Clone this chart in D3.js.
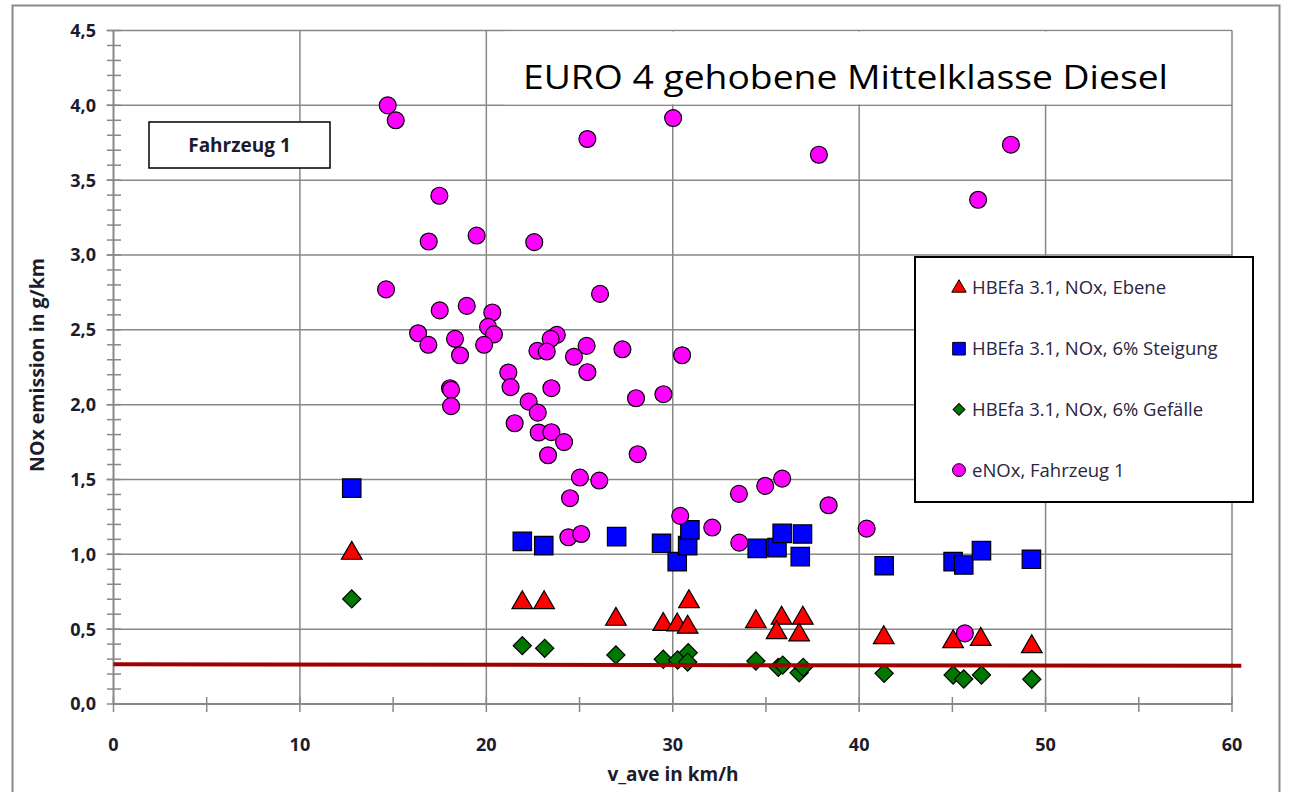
<!DOCTYPE html>
<html>
<head>
<meta charset="utf-8">
<script src="https://cdn.jsdelivr.net/npm/d3@7"></script>
<style>
  body { margin: 0; background: #fff; }
  svg text { font-family: "Open Sans", "Noto Sans", sans-serif; }
</style>
</head>
<body>
<svg id="chart"></svg>
<script>
// HBEFA 3.1 values per average speed [v_ave, NOx]
const ebene = [[12.78,1.007],[21.93,0.677],[23.1,0.677],[26.95,0.566],[29.49,0.532],[30.24,0.528],[30.8,0.513],[30.87,0.684],[34.46,0.55],[35.84,0.573],[35.57,0.477],[36.98,0.573],[36.78,0.461],[41.32,0.443],[45.04,0.416],[46.52,0.432],[49.26,0.383]];
const steigung = [[12.78,1.442],[21.93,1.087],[23.08,1.058],[26.99,1.118],[29.4,1.074],[30.24,0.951],[30.8,1.058],[30.92,1.163],[34.53,1.04],[35.59,1.045],[35.87,1.14],[36.96,1.136],[36.84,0.985],[41.34,0.924],[45.04,0.951],[45.61,0.929],[46.56,1.025],[49.24,0.967]];
const gefaelle = [[12.78,0.702],[21.93,0.39],[23.13,0.372],[26.95,0.328],[29.49,0.299],[30.26,0.294],[30.83,0.343],[30.8,0.28],[34.46,0.287],[35.66,0.245],[35.9,0.26],[36.78,0.209],[37.0,0.245],[41.34,0.205],[45.04,0.194],[45.61,0.167],[46.56,0.194],[49.26,0.165]];
// measured eNOx, Fahrzeug 1
const eNOx = [[14.71,4.0],[15.14,3.9],[25.42,3.775],[30.02,3.915],[37.84,3.67],[48.14,3.737],[46.38,3.369],[17.48,3.396],[16.91,3.09],[19.48,3.13],[22.57,3.086],[14.62,2.77],[26.1,2.74],[17.5,2.63],[18.95,2.66],[20.32,2.616],[20.09,2.52],[20.41,2.47],[16.34,2.477],[16.89,2.4],[18.32,2.44],[18.59,2.33],[19.88,2.4],[23.78,2.466],[23.45,2.44],[22.74,2.36],[23.24,2.355],[25.38,2.393],[24.7,2.32],[27.3,2.37],[30.5,2.33],[25.42,2.217],[21.18,2.215],[18.05,2.11],[18.11,2.099],[18.11,1.99],[21.3,2.117],[23.49,2.11],[28.03,2.043],[29.5,2.07],[22.27,2.02],[22.76,1.947],[21.52,1.876],[22.81,1.814],[23.49,1.816],[24.17,1.75],[23.31,1.662],[28.12,1.669],[25.02,1.513],[26.06,1.493],[24.49,1.375],[24.4,1.114],[25.09,1.136],[35.87,1.506],[34.96,1.457],[33.55,1.404],[38.36,1.328],[30.4,1.257],[32.12,1.179],[40.4,1.172],[33.57,1.078],[45.67,0.472]];
// limit line
const grenzwert = [[0,0.265],[60.5,0.255]];

const xMajor = [0,10,20,30,40,50,60];
const xMinor = [0,5,10,15,20,25,30,35,40,45,50,55,60];
const yMajor = [0,0.5,1,1.5,2,2.5,3,3.5,4,4.5];
const yMinor = d3.range(0, 46).map(d => d / 10);

const legendLabels = ["HBEfa 3.1, NOx, Ebene", "HBEfa 3.1, NOx, 6% Steigung", "HBEfa 3.1, NOx, 6% Gefälle", "eNOx, Fahrzeug 1"];
const titleText = "EURO 4 gehobene Mittelklasse Diesel";
const boxText = "Fahrzeug 1";

const width = 1291, height = 792;
const svg = d3.select("#chart").attr("width", width).attr("height", height);
svg.append("rect").attr("width", width).attr("height", height).attr("fill", "#fff");

// outer chart border
svg.append("rect").attr("x", 12.5).attr("y", 5.5).attr("width", 1267).attr("height", 800)
  .attr("fill", "none").attr("stroke", "#8a8a8a").attr("stroke-width", 2);

const x = d3.scaleLinear().domain([0, 60]).range([113.5, 1232]);
const y = d3.scaleLinear().domain([0, 4.5]).range([704, 30.5]);
const grid = "#888";
const ink = "#1c1c2c";
const fmt = d => d3.format(".1f")(d).replace(".", ",");

// gridlines
svg.append("g").selectAll("line").data(yMajor.slice(1)).enter().append("line")
  .attr("x1", 106.5).attr("x2", x(60)).attr("y1", d => y(d)).attr("y2", d => y(d))
  .attr("stroke", grid).attr("stroke-width", 1.5);
svg.append("g").selectAll("line").data(xMajor.slice(1)).enter().append("line")
  .attr("x1", d => x(d)).attr("x2", d => x(d)).attr("y1", y(4.5)).attr("y2", y(0))
  .attr("stroke", grid).attr("stroke-width", 1.5);

// title box covers grid at the top right
svg.append("rect").attr("x", 505).attr("y", y(4.5) + 1).attr("width", x(60) - 506)
  .attr("height", y(4.0) - y(4.5) - 2).attr("fill", "#fff");
svg.append("text").attr("x", 523).attr("y", 89).attr("font-size", 33)
  .attr("textLength", 645).attr("lengthAdjust", "spacingAndGlyphs")
  .attr("fill", "#000").text(titleText);

// axes
svg.append("line").attr("x1", x(0)).attr("x2", x(0)).attr("y1", y(4.5)).attr("y2", y(0))
  .attr("stroke", grid).attr("stroke-width", 2);
svg.append("line").attr("x1", x(0)).attr("x2", x(60)).attr("y1", y(0)).attr("y2", y(0))
  .attr("stroke", grid).attr("stroke-width", 2);
svg.append("g").selectAll("line").data(yMinor).enter().append("line")
  .attr("x1", 107).attr("x2", 121).attr("y1", d => y(d)).attr("y2", d => y(d))
  .attr("stroke", grid).attr("stroke-width", 1.5);
svg.append("g").selectAll("line").data(xMinor).enter().append("line")
  .attr("x1", d => x(d)).attr("x2", d => x(d)).attr("y1", y(0) - 7).attr("y2", y(0) + 8)
  .attr("stroke", grid).attr("stroke-width", 1.5);

// tick labels
svg.append("g").selectAll("text").data(yMajor).enter().append("text")
  .attr("x", 96).attr("y", d => y(d)).attr("dy", "0.36em").attr("text-anchor", "end")
  .attr("font-size", 18).attr("font-weight", "bold").attr("fill", ink).text(fmt);
svg.append("g").selectAll("text").data(xMajor).enter().append("text")
  .attr("x", d => x(d)).attr("y", 751).attr("text-anchor", "middle")
  .attr("font-size", 18).attr("font-weight", "bold").attr("fill", ink).text(d => d);

// axis titles
svg.append("text").attr("x", 673).attr("y", 781).attr("text-anchor", "middle")
  .attr("font-size", 19).attr("font-weight", "bold").attr("fill", ink).text("v_ave in km/h");
svg.append("text").attr("transform", "translate(44,365) rotate(-90)").attr("text-anchor", "middle")
  .attr("font-size", 19.5).attr("font-weight", "bold").attr("fill", ink).text("NOx emission in g/km");

// "Fahrzeug 1" box
svg.append("rect").attr("x", 149).attr("y", 122).attr("width", 181).attr("height", 46)
  .attr("fill", "#fff").attr("stroke", "#000").attr("stroke-width", 1.5);
svg.append("text").attr("x", 239.5).attr("y", 152).attr("text-anchor", "middle")
  .attr("font-size", 19).attr("font-weight", "bold").attr("fill", ink).text(boxText);

// markers
const triPath = d3.symbol().type(d3.symbolTriangle).size(185)();
const sqPath = d3.symbol().type(d3.symbolSquare).size(340)();
const diaPath = d3.symbol().type(d3.symbolSquare).size(165)();
const circPath = d3.symbol().type(d3.symbolCircle).size(225)();

function drawSeries(data, path, fill, rot) {
  svg.append("g").selectAll("path").data(data).enter().append("path")
    .attr("d", path)
    .attr("transform", d => `translate(${x(d[0])},${y(d[1])})` + (rot ? " rotate(45)" : ""))
    .attr("fill", fill).attr("stroke", "#000").attr("stroke-width", 1.2);
}
drawSeries(steigung, sqPath, "#0000ff");
drawSeries(ebene, triPath, "#ff0000");
drawSeries(gefaelle, diaPath, "#007800", true);

svg.append("path").datum(grenzwert)
  .attr("d", d3.line().x(d => x(d[0])).y(d => y(d[1])))
  .attr("stroke", "#a00000").attr("stroke-width", 4).attr("fill", "none");

drawSeries(eNOx, circPath, "#ff00ff");

// legend
const lg = svg.append("g").attr("transform", "translate(915,257)");
lg.append("rect").attr("width", 338).attr("height", 245)
  .attr("fill", "#fff").attr("stroke", "#000").attr("stroke-width", 2);
const legendMarks = [
  { path: d3.symbol().type(d3.symbolTriangle).size(90)(), fill: "#ff0000", rot: false },
  { path: d3.symbol().type(d3.symbolSquare).size(160)(), fill: "#0000ff", rot: false },
  { path: d3.symbol().type(d3.symbolSquare).size(70)(), fill: "#007800", rot: true },
  { path: d3.symbol().type(d3.symbolCircle).size(130)(), fill: "#ff00ff", rot: false }
];
const item = lg.selectAll("g.item").data(legendLabels).enter().append("g")
  .attr("class", "item").attr("transform", (d, i) => `translate(0,${31 + i * 60.7})`);
item.append("path").attr("d", (d, i) => legendMarks[i].path)
  .attr("transform", (d, i) => "translate(44,0)" + (legendMarks[i].rot ? " rotate(45)" : ""))
  .attr("fill", (d, i) => legendMarks[i].fill).attr("stroke", "#000").attr("stroke-width", 1);
item.append("text").attr("x", 57).attr("dy", "0.35em").attr("font-size", 18.5)
  .attr("fill", "#2a2540").text(d => d);
</script>
</body>
</html>
